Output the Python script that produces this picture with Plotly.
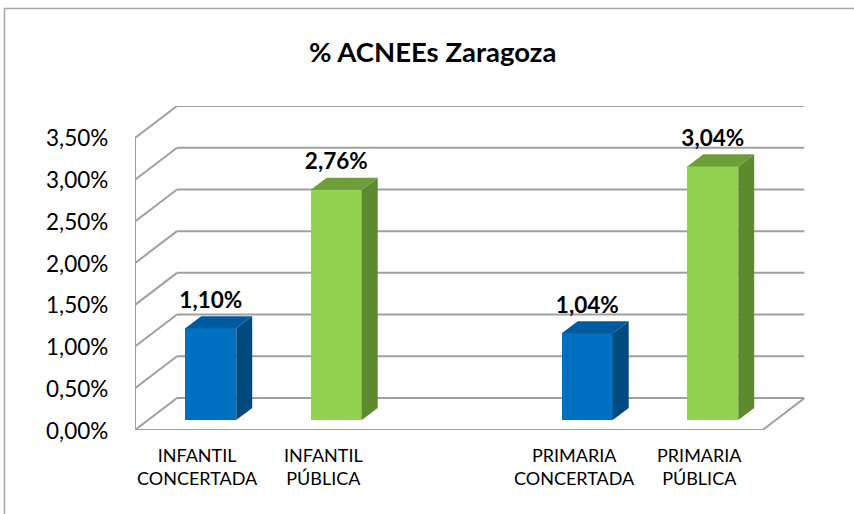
import plotly.graph_objects as go

# ---- data ----
categories = ["INFANTIL<br>CONCERTADA", "INFANTIL<br>PÚBLICA", "", "PRIMARIA<br>CONCERTADA", "PRIMARIA<br>PÚBLICA"]
values = [1.10, 2.76, None, 1.04, 3.04]
value_labels = ["1,10%", "2,76%", "", "1,04%", "3,04%"]
y_ticks = [0, 0.5, 1.0, 1.5, 2.0, 2.5, 3.0, 3.5]
y_tick_text = ["0,00%", "0,50%", "1,00%", "1,50%", "2,00%", "2,50%", "3,00%", "3,50%"]
title = "% ACNEEs Zaragoza"

# ---- style / geometry ----
front_colors = ["#0070C0", "#92D050", None, "#0070C0", "#92D050"]
side_colors = ["#004A80", "#5E8A2E", None, "#004A80", "#5E8A2E"]
top_colors = ["#005A9E", "#6E9E3A", None, "#005A9E", "#6E9E3A"]
W, H = 854, 514
px_x0, px_cat = 135, 125.5          # front x axis start, px per category
px_y0, px_pct = 430, 83.43          # floor front y, px per 1%
dxp, dyp = 42, 32                   # depth offset in px
DX = dxp / px_cat
DY = dyp / px_pct
n = len(categories)
ymax = y_ticks[-1]
xr = [-0.5, n - 0.5 + DX]
yr = [0, ymax + DY]
dom_x = [px_x0 / W, (px_x0 + (xr[1] - xr[0]) * px_cat) / W]
dom_y = [(H - px_y0) / H, (H - (px_y0 - yr[1] * px_pct)) / H]

fr = 0.31      # bar front position in depth
dd = 0.38      # bar depth
bw = 0.406     # bar width
grid_col = "#A0A0A0"
font = "Lato"

fig = go.Figure()

xs = [i for i in range(n)]
bx = [i + fr * DX for i in xs if values[i] is not None]
by = [values[i] for i in xs if values[i] is not None]
bc = [front_colors[i] for i in xs if values[i] is not None]
fig.add_trace(go.Bar(x=bx, y=by, base=fr * DY, width=bw, marker=dict(color=bc, line=dict(width=0)),
                     hoverinfo="skip", showlegend=False))

for i in xs:
    v = values[i]
    if v is None:
        continue
    xl = i + fr * DX - bw / 2
    xrt = i + fr * DX + bw / 2
    b = fr * DY
    t = v + fr * DY
    # side face
    fig.add_trace(go.Scatter(x=[xrt, xrt + dd * DX, xrt + dd * DX, xrt, xrt],
                             y=[b, b + dd * DY, t + dd * DY, t, b], fill="toself", mode="lines",
                             fillcolor=side_colors[i], line=dict(width=0, color=side_colors[i]),
                             hoverinfo="skip", showlegend=False))
    # top face
    fig.add_trace(go.Scatter(x=[xl, xrt, xrt + dd * DX, xl + dd * DX, xl],
                             y=[t, t, t + dd * DY, t + dd * DY, t], fill="toself", mode="lines",
                             fillcolor=top_colors[i], line=dict(width=0, color=top_colors[i]),
                             hoverinfo="skip", showlegend=False))

# data labels
lx = [i + fr * DX for i in xs if values[i] is not None]
ly = [values[i] + fr * DY + 26 / px_pct for i in xs if values[i] is not None]
lt = [value_labels[i] for i in xs if values[i] is not None]
fig.add_trace(go.Scatter(x=lx, y=ly, mode="text", text=lt, textposition="middle center",
                         textfont=dict(family=font, size=22.5, color="black", weight="bold"),
                         cliponaxis=False, hoverinfo="skip", showlegend=False))

shapes = []
line = dict(color=grid_col, width=2)
for v in y_ticks:
    shapes.append(dict(type="line", xref="x", yref="y", x0=-0.5, y0=v, x1=-0.5 + DX, y1=v + DY, line=line, layer="below"))
    shapes.append(dict(type="line", xref="x", yref="y", x0=-0.5 + DX, y0=v + DY, x1=n - 0.5 + DX, y1=v + DY, line=line, layer="below"))
# front y axis
shapes.append(dict(type="line", xref="x", yref="y", x0=-0.5, y0=0, x1=-0.5, y1=ymax, line=line, layer="below"))
# floor front and right edge
shapes.append(dict(type="line", xref="x", yref="y", x0=-0.5, y0=0, x1=n - 0.5, y1=0, line=line, layer="below"))
shapes.append(dict(type="line", xref="x", yref="y", x0=n - 0.5, y0=0, x1=n - 0.5 + DX, y1=DY, line=line, layer="below"))
# y ticks
for v in y_ticks:
    shapes.append(dict(type="line", xref="x", yref="y", x0=-0.5 - 7 / px_cat, y0=v, x1=-0.5, y1=v, line=line, layer="below"))
# x ticks at category boundaries
for k in range(n + 1):
    shapes.append(dict(type="line", xref="x", yref="y", x0=k - 0.5, y0=0, x1=k - 0.5, y1=-7 / px_pct, line=line, layer="below"))
# outer frame
shapes.append(dict(type="rect", xref="paper", yref="paper", x0=4.5 / W, y0=-0.05, x1=1.05, y1=(H - 8.5) / H,
                   line=dict(color="#A6A6A6", width=1.5), layer="below"))

annotations = []
for i, c in enumerate(categories):
    if c:
        annotations.append(dict(x=i, y=0, xref="x", yref="y", text=c, showarrow=False, yanchor="top",
                                yshift=-12, font=dict(family=font, size=18, color="black"), align="center"))
for v, t in zip(y_ticks, y_tick_text):
    annotations.append(dict(x=-0.5, y=v, xref="x", yref="y", text=t, showarrow=False, xanchor="right",
                            yanchor="middle", xshift=-25, font=dict(family=font, size=22.5, color="black")))
annotations.append(dict(x=432 / W, y=(H - 52) / H, xref="paper", yref="paper", text="<b>" + title + "</b>",
                        showarrow=False, xanchor="center", yanchor="middle",
                        font=dict(family=font, size=27.5, color="black")))

fig.update_layout(
    width=W, height=H, autosize=False,
    margin=dict(l=0, r=0, t=0, b=0),
    paper_bgcolor="white", plot_bgcolor="rgba(0,0,0,0)",
    xaxis=dict(range=xr, domain=dom_x, visible=False, fixedrange=True),
    yaxis=dict(range=yr, domain=dom_y, visible=False, fixedrange=True),
    shapes=shapes, annotations=annotations, showlegend=False, bargap=0,
    hovermode=False,
)

fig.write_html("out.html", config={"displayModeBar": False, "staticPlot": True},
               post_script="document.body.style.margin='0';document.body.style.overflow='hidden';")
